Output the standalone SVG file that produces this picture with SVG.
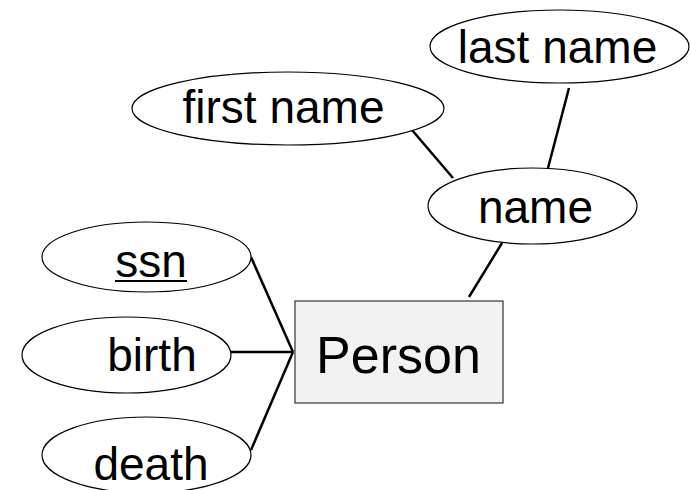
<svg xmlns="http://www.w3.org/2000/svg" width="690" height="490" viewBox="0 0 690 490">
<style>
.attr ellipse{fill:#ffffff;stroke:#000000;stroke-width:1.2}
text{font-family:"Liberation Sans",Arial,sans-serif;font-size:46px;fill:#000000;text-anchor:middle}
.conn line{stroke:#000000;stroke-width:2.5}
</style>
<rect width="690" height="490" fill="#ffffff"/>
<g class="conn" id="connectors">
<line x1="412" y1="130" x2="453" y2="178"/>
<line x1="569" y1="88" x2="548" y2="168"/>
<line x1="502" y1="243" x2="469" y2="297"/>
<line x1="251" y1="257" x2="293" y2="352"/>
<line x1="231" y1="352" x2="293" y2="352"/>
<line x1="251" y1="450" x2="293" y2="352"/>
</g>
<g class="attr" id="last_name">
<ellipse cx="559.5" cy="46.5" rx="129.5" ry="36.5"/>
<text x="557.5" y="63">last name</text>
</g>
<g class="attr" id="first_name">
<ellipse cx="288" cy="108.5" rx="156" ry="36.5"/>
<text x="283.5" y="123">first name</text>
</g>
<g class="attr" id="name">
<ellipse cx="532.5" cy="206" rx="104.5" ry="38"/>
<text x="535.5" y="223">name</text>
</g>
<g class="attr" id="ssn">
<ellipse cx="146.5" cy="257" rx="104.5" ry="35"/>
<text x="151" y="277">ssn</text>
<line x1="115" y1="281" x2="187" y2="281" stroke="#000" stroke-width="2"/>
</g>
<g class="attr" id="birth">
<ellipse cx="126.5" cy="355" rx="104.5" ry="38"/>
<text x="152" y="371">birth</text>
</g>
<g class="attr" id="death">
<ellipse cx="146.5" cy="455" rx="104.5" ry="38"/>
<text x="151" y="480">death</text>
</g>
<g id="Person">
<rect x="295" y="301" width="208" height="102" fill="#f2f2f2" stroke="#333333" stroke-width="1.2"/>
<text x="398.5" y="373" style="font-size:52px">Person</text>
</g>
</svg>
